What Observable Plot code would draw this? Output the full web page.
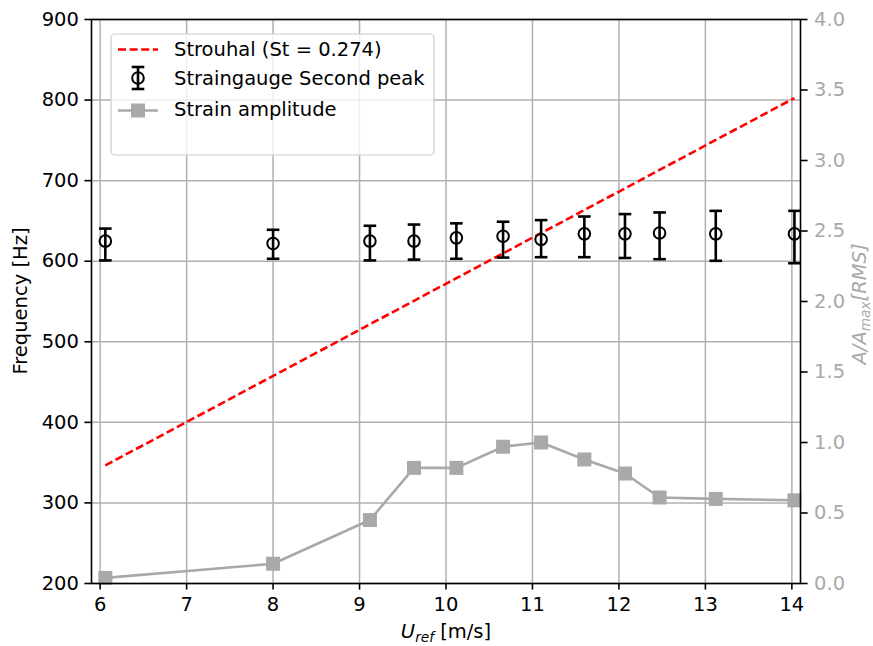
<!DOCTYPE html>
<html><head><meta charset="utf-8">
<script src="https://cdn.jsdelivr.net/npm/d3@7"></script>
<script src="https://cdn.jsdelivr.net/npm/@observablehq/plot@0.6"></script>
<style>body{margin:0;background:#fff}</style>
</head><body><div id="chart"></div>
<script>
// ---- data ----
const uRef      = [6.06, 8.00, 9.12, 9.63, 10.12, 10.66, 11.10, 11.60, 12.07, 12.47, 13.12, 14.03];
const freqPeak  = [625, 622, 625, 625, 629, 631, 627, 634, 634, 635, 634, 634];
const freqLow   = [601, 603, 601, 602, 603, 604.5, 605, 605, 604, 602.5, 600.5, 597.5];
const freqHigh  = [640.5, 639, 644, 645.5, 647, 649, 651, 655.5, 658.5, 660.5, 662.5, 662.5];
const strouhal  = [346.6, 457.6, 521.7, 550.9, 578.9, 609.8, 634.9, 663.5, 690.4, 713.3, 750.5, 802.5];
const ampRatio  = [0.04, 0.14, 0.45, 0.82, 0.82, 0.97, 1.00, 0.88, 0.78, 0.61, 0.60, 0.59];
const xTicks    = [6, 7, 8, 9, 10, 11, 12, 13, 14];
const yTicks    = [200, 300, 400, 500, 600, 700, 800, 900];
const ampTicks  = [0, 0.5, 1.0, 1.5, 2.0, 2.5, 3.0, 3.5, 4.0];
const legendLabels = ["Strouhal (St = 0.274)", "Straingauge Second peak", "Strain amplitude"];

const F0 = 200, F1 = 900, AMAX = 4;
const ampToHz = a => F0 + a * (F1 - F0) / AMAX;
const hzToAmp = f => (f - F0) * AMAX / (F1 - F0);

const rows = uRef.map((u, i) => ({
  u, f: freqPeak[i], lo: freqLow[i], hi: freqHigh[i], st: strouhal[i], amp: ampRatio[i]
}));

const GRAY = "#a9a9a9";
const LW = 2.6;
const DASH = "8,3.6";
const cap = {draw(ctx) { ctx.moveTo(-6.3, 0); ctx.lineTo(6.3, 0); }};

const plot = Plot.plot({
  width: 873, height: 646,
  marginLeft: 91, marginRight: 73, marginTop: 19, marginBottom: 63,
  style: {fontFamily: "DejaVu Sans", fontSize: "19.5px", background: "white", color: "black", overflow: "visible"},
  x: {domain: [5.9, 14.1]},
  y: {domain: [F0, F1]},
  marks: [
    Plot.gridX(xTicks, {stroke: "#b0b0b0", strokeOpacity: 1, strokeWidth: 1.5}),
    Plot.gridY(yTicks, {stroke: "#b0b0b0", strokeOpacity: 1, strokeWidth: 1.5}),
    Plot.line(rows, {x: "u", y: "st", stroke: "red", strokeWidth: LW, strokeDasharray: DASH, strokeLinecap: "butt"}),
    Plot.ruleX(rows, {x: "u", y1: "lo", y2: "hi", stroke: "black", strokeWidth: LW}),
    Plot.dot(rows, {x: "u", y: "lo", symbol: cap, stroke: "black", strokeWidth: LW}),
    Plot.dot(rows, {x: "u", y: "hi", symbol: cap, stroke: "black", strokeWidth: LW}),
    Plot.dot(rows, {x: "u", y: "f", r: 5.8, stroke: "black", fill: "none", strokeWidth: 2}),
    Plot.line(rows, {x: "u", y: d => ampToHz(d.amp), stroke: GRAY, strokeWidth: LW}),
    Plot.dot(rows, {x: "u", y: d => ampToHz(d.amp), symbol: "square", r: 7.9, fill: GRAY, stroke: "none"}),
    Plot.frame({stroke: "black", strokeWidth: 1.6}),
    Plot.axisX(xTicks, {tickSize: 6.6, tickPadding: 7, strokeWidth: 1.6, label: null}),
    Plot.axisY(yTicks, {anchor: "left", tickSize: 6.6, tickPadding: 6, strokeWidth: 1.6, label: null}),
    Plot.axisY(ampTicks.map(ampToHz), {anchor: "right", tickSize: 6.6, tickPadding: 7, strokeWidth: 1.6,
      stroke: "black", fill: GRAY, tickFormat: v => hzToAmp(v).toFixed(1), label: null})
  ]
});
document.getElementById("chart").appendChild(plot);

const svg = d3.select(plot);
// axis titles
svg.append("text").attr("transform", "translate(27,301) rotate(-90)")
  .attr("text-anchor", "middle").attr("fill", "black").text("Frequency [Hz]");

const xl = svg.append("text").attr("x", 446).attr("y", 638).attr("text-anchor", "middle").attr("fill", "black");
xl.append("tspan").attr("font-style", "italic").text("U");
xl.append("tspan").attr("font-style", "italic").attr("font-size", "13.7px").attr("dy", 4).text("ref");
xl.append("tspan").attr("dy", -4).text("\u00a0[m/s]");

const yl = svg.append("text").attr("transform", "translate(866,304) rotate(-90)")
  .attr("text-anchor", "middle").attr("fill", GRAY);
yl.append("tspan").attr("font-style", "italic").text("A/A");
yl.append("tspan").attr("font-style", "italic").attr("font-size", "13.7px").attr("dy", 4).text("max");
yl.append("tspan").attr("font-style", "italic").attr("dy", -4).text("[RMS]");

// legend
const lg = svg.append("g").attr("text-anchor", "start");
lg.append("rect").attr("x", 111).attr("y", 34).attr("width", 323).attr("height", 121).attr("rx", 4)
  .attr("fill", "white").attr("fill-opacity", 0.8).attr("stroke", "#cccccc").attr("stroke-width", 1.2);
lg.append("line").attr("x1", 118).attr("x2", 158).attr("y1", 49.5).attr("y2", 49.5)
  .attr("stroke", "red").attr("stroke-width", LW).attr("stroke-dasharray", DASH);
// errorbar handle
lg.append("line").attr("x1", 138).attr("x2", 138).attr("y1", 67).attr("y2", 89).attr("stroke", "black").attr("stroke-width", LW);
lg.append("line").attr("x1", 131.7).attr("x2", 144.3).attr("y1", 67).attr("y2", 67).attr("stroke", "black").attr("stroke-width", LW);
lg.append("line").attr("x1", 131.7).attr("x2", 144.3).attr("y1", 89).attr("y2", 89).attr("stroke", "black").attr("stroke-width", LW);
lg.append("circle").attr("cx", 138).attr("cy", 78).attr("r", 5.8).attr("fill", "none").attr("stroke", "black").attr("stroke-width", 2);
// strain amplitude handle
lg.append("line").attr("x1", 118).attr("x2", 158).attr("y1", 110.5).attr("y2", 110.5).attr("stroke", GRAY).attr("stroke-width", LW);
lg.append("rect").attr("x", 131).attr("y", 103.5).attr("width", 14).attr("height", 14).attr("fill", GRAY);
[49, 78.5, 109].forEach((cy, i) => {
  lg.append("text").attr("x", 174).attr("y", cy).attr("dy", "0.35em").attr("fill", "black").text(legendLabels[i]);
});
</script>
</body></html>
